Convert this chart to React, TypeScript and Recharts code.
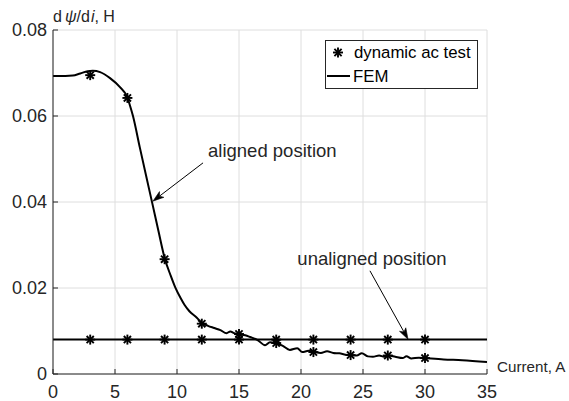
import React from 'react';
import {
  ComposedChart,
  Line,
  Scatter,
  XAxis,
  YAxis,
  CartesianGrid,
  ReferenceLine,
  Legend,
} from 'recharts';

// FEM, aligned position (current in A, incremental inductance in H)
const femCurrent = [
  0, 1, 1.6, 2.2, 2.8, 3.2, 3.8, 4.6, 5.4, 6.0, 6.2, 6.45, 7.0, 7.5, 8.0, 8.5, 9.0, 9.5, 9.85,
  10.3, 10.6, 11.0, 11.6, 12.0, 12.5, 13.0, 13.5, 14.0, 14.3, 14.6, 15.0, 15.5, 15.9, 16.5,
  17.1, 17.5, 18.0, 18.5, 19.1, 19.7, 20.1, 20.6, 21.0, 21.6, 22.1, 22.6, 23.1, 23.6, 24.0,
  24.5, 24.9, 25.4, 25.8, 26.3, 26.7, 27.1, 27.6, 28.2, 28.5, 28.9, 29.5, 30.0, 31.5, 33.0, 35.0,
];
const femAligned = [
  0.0693, 0.0693, 0.0694, 0.0699, 0.0704, 0.0705, 0.0702, 0.0688, 0.0667, 0.0643, 0.0625, 0.06,
  0.0527, 0.0462, 0.0398, 0.0333, 0.027, 0.0228, 0.0202, 0.0176, 0.0161, 0.0146, 0.0131, 0.0119,
  0.0112, 0.0107, 0.0102, 0.0095, 0.0099, 0.0095, 0.0092, 0.009, 0.0086, 0.0079, 0.0067, 0.0074,
  0.0071, 0.0066, 0.0056, 0.006, 0.0051, 0.0054, 0.0052, 0.0049, 0.0053, 0.0049, 0.0048, 0.0045,
  0.0044, 0.0043, 0.0048, 0.0041, 0.004, 0.0043, 0.004, 0.0043, 0.004, 0.0037, 0.0041, 0.0036,
  0.0038, 0.0037, 0.0034, 0.0032, 0.0028,
];

// FEM, unaligned position
const femUnalignedCurrent = [0, 35];
const femUnaligned = [0.008, 0.008];

// Dynamic ac test points
const testCurrent = [3, 6, 9, 12, 15, 18, 21, 24, 27, 30];
const testAligned = [0.0695, 0.0642, 0.0267, 0.0117, 0.0093, 0.0072, 0.0051, 0.0044, 0.0043, 0.0037];
const testUnaligned = [0.008, 0.008, 0.008, 0.008, 0.008, 0.008, 0.008, 0.008, 0.008, 0.008];

const xTicks = [0, 5, 10, 15, 20, 25, 30, 35];
const yTicks = [0, 0.02, 0.04, 0.06, 0.08];

// Annotation arrows (data coordinates: from text end to arrow tip)
const annotationText = ['aligned position', 'unaligned position'];
const annotationFrom = [
  [12.1, 0.0491],
  [25.56, 0.024],
];
const annotationTo = [
  [8.06, 0.0402],
  [28.63, 0.0081],
];

const FONT = '"Liberation Sans", Arial, Helvetica, sans-serif';
const INK = '#262626';

const femAlignedData = femCurrent.map((x, i) => ({ x, y: femAligned[i] }));
const femUnalignedData = femUnalignedCurrent.map((x, i) => ({ x, y: femUnaligned[i] }));
const testAlignedData = testCurrent.map((x, i) => ({ x, y: testAligned[i] }));
const testUnalignedData = testCurrent.map((x, i) => ({ x, y: testUnaligned[i] }));

const Star = (props: any) => {
  const { cx, cy } = props;
  if (cx == null || cy == null) return null;
  const r = 5;
  const d = r * 0.72;
  return (
    <g stroke="#000" strokeWidth={1.9} strokeLinecap="butt">
      <line x1={cx - r} y1={cy} x2={cx + r} y2={cy} />
      <line x1={cx} y1={cy - r} x2={cx} y2={cy + r} />
      <line x1={cx - d} y1={cy - d} x2={cx + d} y2={cy + d} />
      <line x1={cx - d} y1={cy + d} x2={cx + d} y2={cy - d} />
    </g>
  );
};

const makeArrow = (text: string, anchor: 'start' | 'middle') => (props: any) => {
  const { x1, y1, x2, y2 } = props;
  if ([x1, y1, x2, y2].some((v) => v == null || Number.isNaN(v))) return null;
  const ang = Math.atan2(y2 - y1, x2 - x1);
  const L = 11;
  const W = 3.6;
  const bx = x2 - L * Math.cos(ang);
  const by = y2 - L * Math.sin(ang);
  const nx = -Math.sin(ang);
  const ny = Math.cos(ang);
  const ix = x2 - L * 0.75 * Math.cos(ang);
  const iy = y2 - L * 0.75 * Math.sin(ang);
  const head = `M${x2},${y2} L${bx + nx * W},${by + ny * W} L${ix},${iy} L${bx - nx * W},${by - ny * W} Z`;
  return (
    <g>
      <line x1={x1} y1={y1} x2={ix} y2={iy} stroke="#000" strokeWidth={1} />
      <path d={head} fill="#000" stroke="#000" strokeWidth={0.6} />
      <text
        x={anchor === 'start' ? x1 + 5 : x1 + 2}
        y={y1 - 6}
        textAnchor={anchor}
        fontFamily={FONT}
        fontSize={18.5}
        fill={INK}
      >
        {text}
      </text>
    </g>
  );
};

const YTitle = (props: any) => {
  const vb = props.viewBox || {};
  const x = (vb.x ?? 0) + (vb.width ?? 0);
  const y = (vb.y ?? 0) - 8;
  return (
    <text x={x} y={y} fontFamily={FONT} fontSize={16} fill={INK}>
      <tspan>d</tspan>
      <tspan dx={3} fontStyle="italic">ψ</tspan>
      <tspan>/d</tspan>
      <tspan dx={1} fontStyle="italic">i</tspan>
      <tspan>, H</tspan>
    </text>
  );
};

const XTitle = (props: any) => {
  const vb = props.viewBox || {};
  const x = (vb.x ?? 0) + (vb.width ?? 0) + 10;
  const y = (vb.y ?? 0) - 6;
  return (
    <text x={x} y={y} fontFamily={FONT} fontSize={15.2} fill={INK} dominantBaseline="middle">
      Current, A
    </text>
  );
};

const LegendBox = () => (
  <svg width={153} height={49} style={{ display: 'block' }}>
    <rect x={0.5} y={0.5} width={152} height={48} fill="#fff" stroke={INK} strokeWidth={1} />
    <Star cx={13} cy={12.5} />
    <text x={29} y={18} fontFamily={FONT} fontSize={16.8} fill="#000">
      dynamic ac test
    </text>
    <line x1={2} y1={36} x2={25} y2={36} stroke="#000" strokeWidth={2} />
    <text x={28} y={42} fontFamily={FONT} fontSize={16.8} fill="#000">
      FEM
    </text>
  </svg>
);

export default function App() {
  return (
    <div style={{ position: 'absolute', left: 0, top: 0, width: 569, height: 401, background: '#fff' }}>
      <ComposedChart
        width={569}
        height={401}
        margin={{ top: 30, right: 82, bottom: 0, left: 0 }}
        style={{ fontFamily: FONT }}
      >
        <CartesianGrid stroke="#dedede" strokeWidth={1} xAxisId="b" yAxisId="l" />
        <XAxis
          xAxisId="b"
          dataKey="x"
          type="number"
          domain={[0, 35]}
          ticks={xTicks}
          height={27}
          tickSize={-5}
          tickMargin={16}
          axisLine={{ stroke: INK, strokeWidth: 1 }}
          tickLine={{ stroke: INK, strokeWidth: 1 }}
          tick={{ fill: INK, fontSize: 18, fontFamily: FONT }}
          allowDataOverflow
          label={<XTitle />}
        />
        <XAxis
          xAxisId="t"
          orientation="top"
          dataKey="x"
          type="number"
          domain={[0, 35]}
          ticks={xTicks}
          height={0}
          tickSize={-5}
          axisLine={{ stroke: INK, strokeWidth: 1 }}
          tickLine={{ stroke: INK, strokeWidth: 1 }}
          tick={false}
          allowDataOverflow
        />
        <YAxis
          yAxisId="l"
          type="number"
          domain={[0, 0.08]}
          ticks={yTicks}
          width={53}
          tickSize={-5}
          tickMargin={11}
          axisLine={{ stroke: INK, strokeWidth: 1 }}
          tickLine={{ stroke: INK, strokeWidth: 1 }}
          tick={{ fill: INK, fontSize: 18, fontFamily: FONT }}
          allowDataOverflow
          label={<YTitle />}
        />
        <YAxis
          yAxisId="r"
          orientation="right"
          type="number"
          domain={[0, 0.08]}
          ticks={yTicks}
          width={0}
          tickSize={-5}
          axisLine={{ stroke: INK, strokeWidth: 1 }}
          tickLine={{ stroke: INK, strokeWidth: 1 }}
          tick={false}
          allowDataOverflow
        />
        <Line
          xAxisId="b"
          yAxisId="l"
          data={femUnalignedData}
          dataKey="y"
          type="linear"
          stroke="#000"
          strokeWidth={2}
          dot={false}
          isAnimationActive={false}
          legendType="none"
        />
        <Line
          xAxisId="b"
          yAxisId="l"
          data={femAlignedData}
          dataKey="y"
          type="monotone"
          stroke="#000"
          strokeWidth={2}
          dot={false}
          isAnimationActive={false}
          legendType="none"
        />
        <Scatter
          xAxisId="b"
          yAxisId="l"
          data={testAlignedData}
          dataKey="y"
          shape={<Star />}
          isAnimationActive={false}
          legendType="none"
        />
        <Scatter
          xAxisId="b"
          yAxisId="l"
          data={testUnalignedData}
          dataKey="y"
          shape={<Star />}
          isAnimationActive={false}
          legendType="none"
        />
        {annotationText.map((t, i) => (
          <ReferenceLine
            key={t}
            xAxisId="b"
            yAxisId="l"
            ifOverflow="visible"
            segment={[
              { x: annotationFrom[i][0], y: annotationFrom[i][1] },
              { x: annotationTo[i][0], y: annotationTo[i][1] },
            ]}
            shape={makeArrow(t, i === 0 ? 'start' : 'middle')}
          />
        ))}
        <Legend
          layout="horizontal"
          verticalAlign="middle"
          align="center"
          wrapperStyle={{ left: 325, top: 40, width: 153, height: 49, margin: 0, padding: 0 }}
          content={() => <LegendBox />}
        />
      </ComposedChart>
    </div>
  );
}
